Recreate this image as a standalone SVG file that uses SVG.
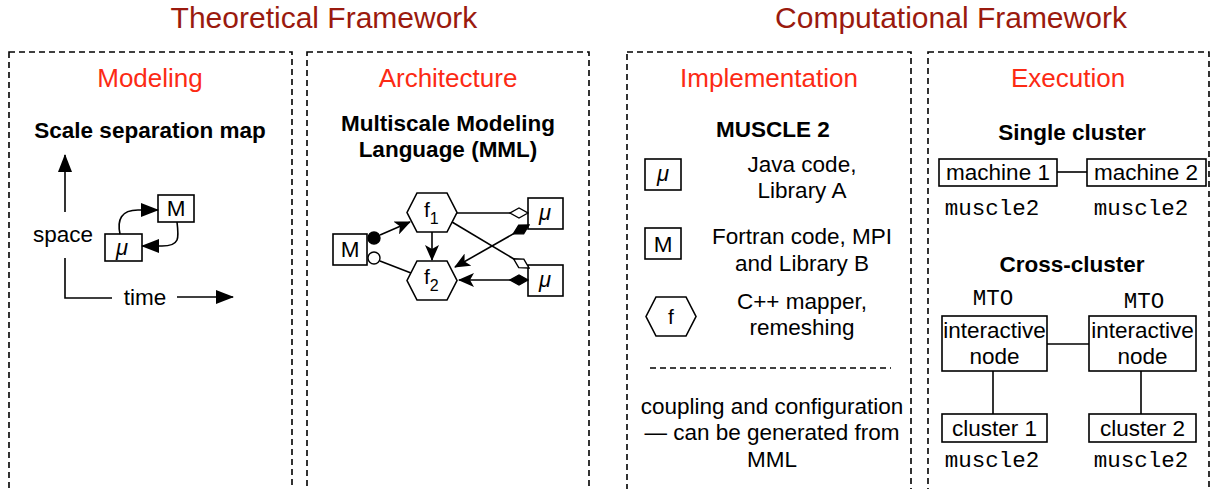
<svg xmlns="http://www.w3.org/2000/svg" width="1214" height="489" viewBox="0 0 1214 489">
<style>
text{font-family:"Liberation Sans",Arial,sans-serif;fill:#000}
.title{font-size:30px;fill:#9a1a0e;text-anchor:middle}
.sub{font-size:26px;fill:#fc2a14;text-anchor:middle}
.bold{font-size:22.5px;font-weight:bold;text-anchor:middle}
.t{font-size:22.5px;text-anchor:middle}
.mono{font-family:"Liberation Mono","Courier New",monospace;font-size:22.5px;text-anchor:middle}
.mu{font-style:italic;font-size:22px;text-anchor:middle}
.panel{fill:none;stroke:#000;stroke-width:1.6;stroke-dasharray:6 4}
.box{fill:#fff;stroke:#000;stroke-width:1.6}
.ln{fill:none;stroke:#000;stroke-width:1.6}
</style>
<defs>
<marker id="tri" markerUnits="userSpaceOnUse" markerWidth="18" markerHeight="14" refX="17" refY="7" orient="auto">
<path d="M0,0 L18,7 L0,14 z" fill="#000"/>
</marker>
<marker id="sharp" markerUnits="userSpaceOnUse" markerWidth="16" markerHeight="14" refX="15" refY="7" orient="auto">
<path d="M0,0 L16,7 L0,14 L4,7 z" fill="#000"/>
</marker>
<marker id="odia" markerUnits="userSpaceOnUse" markerWidth="22" markerHeight="14" refX="1" refY="7" orient="auto">
<path d="M1,7 L10,2 L19,7 L10,12 z" fill="#fff" stroke="#000" stroke-width="1.4"/>
</marker>
<marker id="fdia" markerUnits="userSpaceOnUse" markerWidth="22" markerHeight="14" refX="1" refY="7" orient="auto">
<path d="M1,7 L10,2 L19,7 L10,12 z" fill="#000" stroke="#000" stroke-width="1.4"/>
</marker>
</defs>

<text class="title" x="324" y="28">Theoretical Framework</text>
<text class="title" x="951" y="28">Computational Framework</text>

<g id="panel-modeling">
<rect class="panel" x="9" y="52" width="283" height="460"/>
<text class="sub" x="150" y="87">Modeling</text>
<text class="bold" x="150" y="138">Scale separation map</text>
<text class="t" x="63" y="242">space</text>
<text class="t" x="145" y="305">time</text>
</g>

<g id="ssm-mu"><rect class="box" x="105" y="234" width="37" height="27"/><text class="mu" x="122" y="255">μ</text></g>
<g id="ssm-M"><rect class="box" x="158" y="195" width="36" height="27"/><text class="t" x="176" y="216">M</text></g>

<g id="panel-architecture">
<rect class="panel" x="307" y="52" width="282" height="460"/>
<text class="sub" x="448" y="87">Architecture</text>
<text class="bold" x="448" y="131">Multiscale Modeling</text>
<text class="bold" x="448" y="157">Language (MML)</text>
</g>

<g id="mml-f1"><path class="box" d="M407,212.5 L417,193 L447,193 L457,212.5 L447,232 L417,232 z"/><text x="424" y="217" style="font-size:21px">f<tspan dy="7" style="font-size:16px">1</tspan></text></g>
<g id="mml-f2"><path class="box" d="M407,280.5 L417,261 L447,261 L457,280.5 L447,300 L417,300 z"/><text x="424" y="284" style="font-size:21px">f<tspan dy="7" style="font-size:16px">2</tspan></text></g>
<g id="mml-M"><rect class="box" x="333" y="234" width="34" height="31"/><text class="t" x="350" y="257">M</text></g>
<g id="mml-mu1"><rect class="box" x="528" y="198" width="35" height="31"/><text class="mu" x="545" y="220">μ</text></g>
<g id="mml-mu2"><rect class="box" x="528" y="265" width="35" height="31"/><text class="mu" x="545" y="287">μ</text></g>

<g id="panel-implementation">
<rect class="panel" x="627" y="52" width="284" height="460"/>
<text class="sub" x="769" y="87">Implementation</text>
<text class="bold" x="773" y="137">MUSCLE 2</text>
<text class="t" x="802" y="172">Java code,</text>
<text class="t" x="802" y="198">Library A</text>
<text class="t" x="802" y="244">Fortran code, MPI</text>
<text class="t" x="802" y="271">and Library B</text>
<text class="t" x="802" y="309">C++ mapper,</text>
<text class="t" x="802" y="335">remeshing</text>
<line x1="650" y1="368" x2="891" y2="368" stroke="#000" stroke-width="1.6" stroke-dasharray="6 4"/>
<text class="t" x="772" y="414">coupling and configuration</text>
<text class="t" x="772" y="440">— can be generated from</text>
<text class="t" x="772" y="467">MML</text>
</g>
<g id="impl-mu"><rect class="box" x="645" y="159" width="36" height="31"/><text class="mu" x="663" y="181">μ</text></g>
<g id="impl-M"><rect class="box" x="645" y="228" width="36" height="31"/><text class="t" x="663" y="252">M</text></g>
<g id="impl-f"><path class="box" d="M646,316.5 L656,297 L686,297 L696,316.5 L686,336 L656,336 z"/><text class="t" x="671" y="324" style="font-size:21px">f</text></g>

<g id="panel-execution">
<rect class="panel" x="928" y="52" width="281" height="460"/>
<text class="sub" x="1068" y="87">Execution</text>
<text class="bold" x="1072" y="140">Single cluster</text>
<text class="mono" x="992" y="215">muscle2</text>
<text class="mono" x="1141" y="215">muscle2</text>
<text class="bold" x="1072" y="272">Cross-cluster</text>
<text class="mono" x="993" y="305">MTO</text>
<text class="mono" x="1144" y="308">MTO</text>
<text class="mono" x="992" y="467">muscle2</text>
<text class="mono" x="1141" y="467">muscle2</text>
</g>
<g id="exec-machine1"><rect class="box" x="939" y="159" width="118" height="27"/><text class="t" x="998" y="180">machine 1</text></g>
<g id="exec-machine2"><rect class="box" x="1087" y="159" width="119" height="27"/><text class="t" x="1146" y="180">machine 2</text></g>
<g id="exec-inode1"><rect class="box" x="942" y="316" width="105" height="55"/><text class="t" x="994.5" y="338">interactive</text><text class="t" x="994.5" y="364">node</text></g>
<g id="exec-inode2"><rect class="box" x="1089" y="316" width="107" height="55"/><text class="t" x="1142.5" y="338">interactive</text><text class="t" x="1142.5" y="364">node</text></g>
<g id="exec-cluster1"><rect class="box" x="942" y="414" width="105" height="28"/><text class="t" x="994.5" y="436">cluster 1</text></g>
<g id="exec-cluster2"><rect class="box" x="1089" y="414" width="107" height="28"/><text class="t" x="1142.5" y="436">cluster 2</text></g>

<g id="connectors">
<!-- scale separation map axes -->
<line class="ln" x1="65" y1="212" x2="65" y2="155" marker-end="url(#tri)"/>
<polyline class="ln" points="65,258 65,298 112,298"/>
<line class="ln" x1="177" y1="297" x2="233" y2="297" marker-end="url(#tri)"/>
<path class="ln" d="M120,234 C117,220 121,210 138,210 L158,210" marker-end="url(#tri)"/>
<path class="ln" d="M177,222 C179,238 180,246 162,246 L142,246" marker-end="url(#tri)"/>
<!-- MML -->
<circle cx="374" cy="238" r="6" fill="#000" stroke="#000" stroke-width="1.4"/>
<circle cx="374" cy="258" r="6" fill="#fff" stroke="#000" stroke-width="1.4"/>
<line class="ln" x1="380" y1="235" x2="410" y2="222" marker-end="url(#sharp)"/>
<line class="ln" x1="380" y1="261" x2="411" y2="273"/>
<line class="ln" x1="432" y1="232" x2="432" y2="260" marker-end="url(#sharp)"/>
<line class="ln" x1="528" y1="213" x2="457" y2="213" marker-start="url(#odia)"/>
<line class="ln" x1="529" y1="268" x2="452" y2="222" marker-start="url(#odia)"/>
<line class="ln" x1="529" y1="225" x2="455" y2="267" marker-start="url(#fdia)" marker-end="url(#sharp)"/>
<line class="ln" x1="528" y1="280" x2="459" y2="280" marker-start="url(#fdia)" marker-end="url(#sharp)"/>
<!-- execution -->
<line class="ln" x1="1057" y1="172" x2="1087" y2="172"/>
<line class="ln" x1="1047" y1="344" x2="1089" y2="344"/>
<line class="ln" x1="993" y1="371" x2="993" y2="414"/>
<line class="ln" x1="1141" y1="371" x2="1141" y2="414"/>
</g>
</svg>
